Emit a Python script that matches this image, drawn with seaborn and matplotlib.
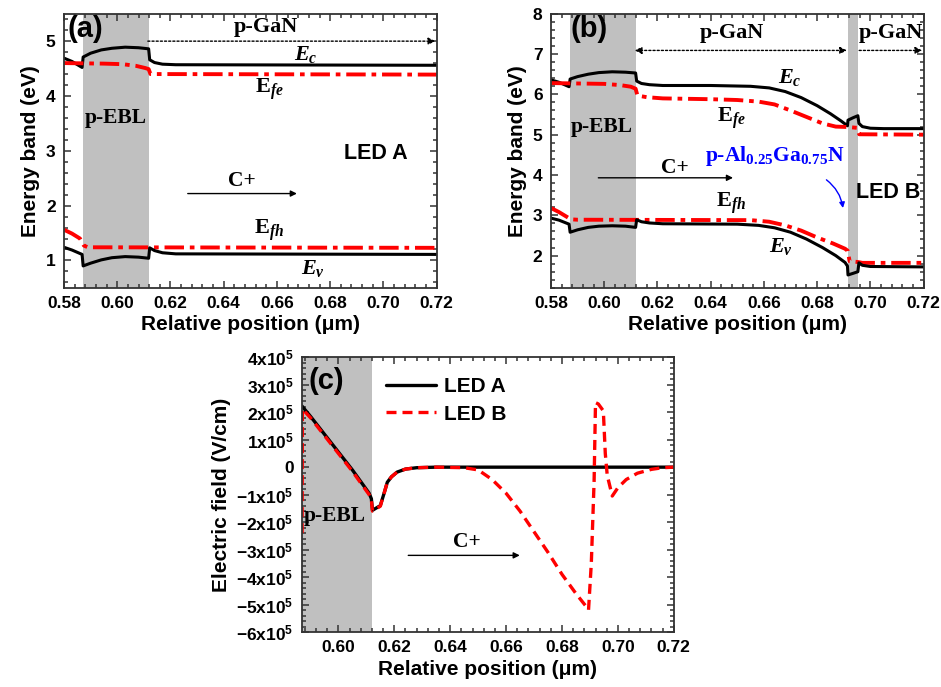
import numpy as np
import pandas as pd
import matplotlib
matplotlib.use('Agg')
import matplotlib.pyplot as plt
import seaborn as sns
from matplotlib.ticker import MultipleLocator, FuncFormatter

# ------------------------------
# Data
# ------------------------------

# (a) LED A band diagram
a_ec_x = [0.580, 0.583, 0.5868, 0.5872, 0.590, 0.594, 0.598, 0.603, 0.608, 0.6118, 0.6122, 0.614, 0.617, 0.622, 0.720]
a_ec_y = [4.69, 4.63, 4.52, 4.71, 4.78, 4.84, 4.87, 4.89, 4.88, 4.86, 4.66, 4.61, 4.58, 4.57, 4.56]
a_efe_x = [0.580, 0.595, 0.602, 0.607, 0.6105, 0.6118, 0.6125, 0.720]
a_efe_y = [4.60, 4.59, 4.58, 4.55, 4.51, 4.49, 4.40, 4.39]
a_efh_x = [0.580, 0.583, 0.586, 0.5875, 0.589, 0.720]
a_efh_y = [1.56, 1.49, 1.40, 1.27, 1.24, 1.23]
a_ev_x = [0.580, 0.583, 0.5868, 0.5872, 0.590, 0.594, 0.598, 0.603, 0.608, 0.6118, 0.6122, 0.614, 0.617, 0.622, 0.720]
a_ev_y = [1.24, 1.19, 1.11, 0.90, 0.95, 1.01, 1.05, 1.07, 1.06, 1.04, 1.23, 1.18, 1.14, 1.12, 1.11]

# (b) LED B band diagram
b_ec_x = [0.580, 0.583, 0.5868, 0.5872, 0.590, 0.594, 0.598, 0.603, 0.608, 0.6118, 0.6122, 0.614, 0.617,
          0.622, 0.640, 0.655, 0.662, 0.668, 0.674, 0.680, 0.685, 0.689, 0.6914, 0.6916, 0.6935, 0.6953,
          0.6957, 0.697, 0.700, 0.705, 0.720]
b_ec_y = [6.36, 6.30, 6.19, 6.38, 6.44, 6.50, 6.54, 6.56, 6.55, 6.53, 6.33, 6.27, 6.24,
          6.22, 6.22, 6.20, 6.16, 6.07, 5.92, 5.72, 5.52, 5.34, 5.22, 5.36, 5.42, 5.47,
          5.28, 5.20, 5.16, 5.15, 5.15]
b_efe_x = [0.580, 0.590, 0.600, 0.606, 0.610, 0.6118, 0.6125, 0.616, 0.622, 0.640, 0.650, 0.658,
           0.664, 0.670, 0.676, 0.682, 0.687, 0.6915, 0.695, 0.6958, 0.720]
b_efe_y = [6.28, 6.27, 6.26, 6.23, 6.19, 6.14, 5.97, 5.93, 5.90, 5.88, 5.86, 5.82,
           5.75, 5.60, 5.44, 5.28, 5.20, 5.19, 5.17, 5.01, 5.00]
b_efh_x = [0.580, 0.583, 0.586, 0.5875, 0.590, 0.655, 0.662, 0.668, 0.674, 0.680, 0.686, 0.6905,
           0.6915, 0.6922, 0.6955, 0.697, 0.720]
b_efh_y = [3.18, 3.08, 2.96, 2.90, 2.89, 2.88, 2.84, 2.75, 2.62, 2.45, 2.30, 2.17,
           2.12, 1.86, 1.84, 1.82, 1.82]
b_ev_x = [0.580, 0.583, 0.5868, 0.5872, 0.590, 0.594, 0.598, 0.603, 0.608, 0.6118, 0.6122, 0.614,
          0.617, 0.622, 0.650, 0.658, 0.664, 0.670, 0.676, 0.682, 0.687, 0.6905, 0.6914, 0.6916,
          0.6935, 0.6953, 0.6957, 0.697, 0.700, 0.720]
b_ev_y = [2.93, 2.88, 2.78, 2.58, 2.64, 2.70, 2.73, 2.74, 2.73, 2.70, 2.89, 2.84,
          2.81, 2.79, 2.78, 2.75, 2.69, 2.58, 2.41, 2.20, 2.00, 1.83, 1.74, 1.52,
          1.56, 1.60, 1.82, 1.76, 1.73, 1.72]

# (c) electric field (V/cm)
c_a_x = [0.587, 0.590, 0.595, 0.600, 0.605, 0.611, 0.6118, 0.6122, 0.613, 0.615, 0.6165, 0.6175,
         0.619, 0.621, 0.624, 0.628, 0.635, 0.720]
c_a_y = [2.22e5, 1.85e5, 1.20e5, 0.55e5, -0.10e5, -0.95e5, -1.15e5, -1.57e5, -1.52e5, -1.40e5,
         -0.90e5, -0.55e5, -0.35e5, -0.18e5, -0.07e5, -0.02e5, 0.0, 0.0]
c_b_x = [0.587, 0.5871, 0.590, 0.595, 0.600, 0.605, 0.611, 0.6118, 0.6122, 0.613, 0.615, 0.6165,
         0.6175, 0.619, 0.621, 0.624, 0.628, 0.635, 0.645, 0.650, 0.655, 0.660, 0.665, 0.670,
         0.675, 0.680, 0.685, 0.6885, 0.6895, 0.6905, 0.6915, 0.692, 0.693, 0.6948, 0.6955,
         0.6962, 0.698, 0.700, 0.703, 0.707, 0.712, 0.716, 0.720]
c_b_y = [-2.4e5, 2.12e5, 1.80e5, 1.15e5, 0.50e5, -0.15e5, -1.00e5, -1.20e5, -1.60e5, -1.55e5,
         -1.42e5, -0.90e5, -0.55e5, -0.35e5, -0.18e5, -0.07e5, -0.02e5, 0.0, -0.02e5, -0.10e5,
         -0.45e5, -0.95e5, -1.60e5, -2.35e5, -3.10e5, -3.90e5, -4.60e5, -5.05e5, -5.20e5,
         -3.50e5, -0.50e5, 2.35e5, 2.30e5, 2.05e5, 0.50e5, -0.30e5, -1.05e5, -0.75e5, -0.45e5,
         -0.22e5, -0.08e5, -0.02e5, 0.0]

ebl = (0.587, 0.612)
algan = (0.6915, 0.6955)

# ------------------------------
# Style
# ------------------------------
sns.set_theme(style='ticks')
plt.rcParams['font.family'] = ['Liberation Sans', 'DejaVu Sans']
plt.rcParams['font.weight'] = 'bold'
plt.rcParams['axes.labelweight'] = 'bold'
plt.rcParams['text.color'] = 'black'
plt.rcParams['axes.labelcolor'] = 'black'
plt.rcParams['xtick.color'] = 'black'
plt.rcParams['ytick.color'] = 'black'
plt.rcParams['mathtext.fontset'] = 'custom'
plt.rcParams['mathtext.rm'] = 'Liberation Sans:bold'
plt.rcParams['mathtext.bf'] = 'Liberation Serif:bold'
plt.rcParams['mathtext.it'] = 'Liberation Serif:italic:bold'
plt.rcParams['axes.edgecolor'] = '#333333'
plt.rcParams['axes.linewidth'] = 1.3

serif = dict(family='Liberation Serif', weight='bold')
black = '#000000'
red = '#ff0000'
shade = '#c0c0c0'


def style_axes(ax, xlim, ylim, ymaj, ymin):
    ax.set_xlim(*xlim)
    ax.set_ylim(*ylim)
    ax.xaxis.set_major_locator(MultipleLocator(0.02))
    ax.xaxis.set_minor_locator(MultipleLocator(0.004))
    ax.xaxis.set_major_formatter(FuncFormatter(lambda v, p: f'{v:.2f}'))
    ax.yaxis.set_major_locator(MultipleLocator(ymaj))
    ax.yaxis.set_minor_locator(MultipleLocator(ymin))
    ax.tick_params(which='both', direction='in', top=True, right=True, labelsize=12.5,
                   color='#333333', width=1.1)
    ax.tick_params(which='major', length=5, pad=6)
    ax.tick_params(which='minor', length=3)
    ax.set_xlabel('Relative position (\u03bcm)', fontsize=15, labelpad=3)
    for lab in ax.get_xticklabels() + ax.get_yticklabels():
        lab.set_fontweight('bold')


def band(ax, x, y, color, ls, lw):
    sns.lineplot(x=x, y=y, ax=ax, color=color, linestyle=ls, linewidth=lw,
                 sort=False, estimator=None, legend=False)


dashdot = (0, (5, 1.5, 1.2, 1.5))
arrow_dot = (0, (1.5, 1.5))

fig = plt.figure(figsize=(9.41, 6.87), dpi=100)

# ------------------------------
# (a) LED A
# ------------------------------
ax = fig.add_axes([0.068, 0.581, 0.396, 0.399])
ax.axvspan(*ebl, color=shade, lw=0, zorder=0)
band(ax, a_ec_x, a_ec_y, black, '-', 2.2)
band(ax, a_efe_x, a_efe_y, red, dashdot, 2.8)
band(ax, a_efh_x, a_efh_y, red, dashdot, 2.8)
band(ax, a_ev_x, a_ev_y, black, '-', 2.2)
style_axes(ax, (0.58, 0.72), (0.5, 5.5), 1, 0.2)
ax.set_ylabel('Energy band (eV)', fontsize=15, labelpad=4)
ax.text(0.5813, 5.22, '(a)', fontsize=21, weight='bold', va='center')
ax.text(0.656, 5.25, 'p-GaN', fontsize=16, va='center', ha='center', **serif)
ax.annotate('', xy=(0.7195, 5.0), xytext=(0.6115, 5.0),
            arrowprops=dict(arrowstyle='-|>', linestyle=arrow_dot, lw=1, color='black',
                            mutation_scale=10, shrinkA=0, shrinkB=0))
ax.text(0.671, 4.76, r'$E_c$', fontsize=16, ha='center', va='center')
ax.text(0.657, 4.12, r'$\mathbf{E}_{fe}$', fontsize=16, ha='center', va='center')
ax.text(0.5995, 3.6, 'p-EBL', fontsize=15.5, ha='center', va='center', **serif)
ax.text(0.697, 2.95, 'LED A', fontsize=15.5, ha='center', va='center', weight='bold')
ax.text(0.647, 2.45, 'C+', fontsize=15.5, ha='center', va='center', **serif)
ax.annotate('', xy=(0.6675, 2.22), xytext=(0.6265, 2.22),
            arrowprops=dict(arrowstyle='-|>', lw=1, color='black', mutation_scale=9,
                            shrinkA=0, shrinkB=0))
ax.text(0.657, 1.55, r'$\mathbf{E}_{fh}$', fontsize=16, ha='center', va='center')
ax.text(0.6735, 0.86, r'$E_v$', fontsize=16, ha='center', va='center')

# ------------------------------
# (b) LED B
# ------------------------------
ax = fig.add_axes([0.5855, 0.581, 0.396, 0.399])
ax.axvspan(*ebl, color=shade, lw=0, zorder=0)
ax.axvspan(*algan, color=shade, lw=0, zorder=0)
band(ax, b_ec_x, b_ec_y, black, '-', 2.2)
band(ax, b_efe_x, b_efe_y, red, dashdot, 2.8)
band(ax, b_efh_x, b_efh_y, red, dashdot, 2.8)
band(ax, b_ev_x, b_ev_y, black, '-', 2.2)
style_axes(ax, (0.58, 0.72), (1.2, 8.0), 1, 0.2)
ax.set_ylabel('Energy band (eV)', fontsize=15, labelpad=4)
ax.text(0.5872, 7.62, '(b)', fontsize=21, weight='bold', va='center')
ax.text(0.648, 7.52, 'p-GaN', fontsize=16, va='center', ha='center', **serif)
ax.text(0.7078, 7.52, 'p-GaN', fontsize=16, va='center', ha='center', **serif)
ax.annotate('', xy=(0.6912, 7.09), xytext=(0.6115, 7.09),
            arrowprops=dict(arrowstyle='<|-|>', linestyle=arrow_dot, lw=1, color='black',
                            mutation_scale=10, shrinkA=0, shrinkB=0))
ax.annotate('', xy=(0.7195, 7.09), xytext=(0.6958, 7.09),
            arrowprops=dict(arrowstyle='-|>', linestyle=arrow_dot, lw=1, color='black',
                            mutation_scale=10, shrinkA=0, shrinkB=0))
ax.text(0.6697, 6.43, r'$E_c$', fontsize=16, ha='center', va='center')
ax.text(0.6478, 5.40, r'$\mathbf{E}_{fe}$', fontsize=16, ha='center', va='center')
ax.text(0.599, 5.2, 'p-EBL', fontsize=15.5, ha='center', va='center', **serif)
ax.text(0.664, 4.46, r'p-Al$_{\mathbf{0.25}}$Ga$_{\mathbf{0.75}}$N', fontsize=15.5,
        ha='center', va='center', color='#0000ff', **serif)
ax.annotate('', xy=(0.6897, 3.18), xytext=(0.6835, 3.88),
            arrowprops=dict(arrowstyle='-|>', lw=1, color='#0000ff', mutation_scale=8,
                            connectionstyle='arc3,rad=-0.2', shrinkA=0, shrinkB=0))
ax.text(0.7068, 3.57, 'LED B', fontsize=15.5, ha='center', va='center', weight='bold')
ax.text(0.6265, 4.17, 'C+', fontsize=15.5, ha='center', va='center', **serif)
ax.annotate('', xy=(0.6484, 3.93), xytext=(0.5978, 3.93),
            arrowprops=dict(arrowstyle='-|>', lw=1, color='black', mutation_scale=9,
                            shrinkA=0, shrinkB=0))
ax.text(0.6478, 3.30, r'$\mathbf{E}_{fh}$', fontsize=16, ha='center', va='center')
ax.text(0.6666, 2.23, r'$E_v$', fontsize=16, ha='center', va='center')

# ------------------------------
# (c) electric field
# ------------------------------
ax = fig.add_axes([0.321, 0.080, 0.395, 0.400])
ax.axvspan(*ebl, color=shade, lw=0, zorder=0)
field = pd.concat([
    pd.DataFrame({'x': c_a_x, 'E': c_a_y, 'LED': 'LED A'}),
    pd.DataFrame({'x': c_b_x, 'E': c_b_y, 'LED': 'LED B'}),
])
sns.lineplot(data=field[field.LED == 'LED A'], x='x', y='E', ax=ax, color=black, lw=2.4,
             sort=False, estimator=None, label='LED A')
sns.lineplot(data=field[field.LED == 'LED B'], x='x', y='E', ax=ax, color=red, lw=2.4,
             linestyle=(0, (3, 1.8)), sort=False, estimator=None, label='LED B')
style_axes(ax, (0.587, 0.72), (-6e5, 4e5), 1e5, 2e4)
ax.yaxis.set_major_formatter(FuncFormatter(
    lambda v, p: '0' if abs(v) < 1 else r'$\mathrm{%dx10^5}$' % round(v / 1e5)))
ax.set_ylabel('Electric field (V/cm)', fontsize=15, labelpad=4)
ax.text(0.5955, 3.15e5, '(c)', fontsize=21, weight='bold', va='center', ha='center')
ax.text(0.5988, -1.76e5, 'p-EBL', fontsize=15.5, ha='center', va='center', **serif)
ax.text(0.6458, -2.73e5, 'C+', fontsize=15.5, ha='center', va='center', **serif)
ax.annotate('', xy=(0.6649, -3.21e5), xytext=(0.625, -3.21e5),
            arrowprops=dict(arrowstyle='-|>', lw=1, color='black', mutation_scale=9,
                            shrinkA=0, shrinkB=0))
ax.legend(loc='upper left', bbox_to_anchor=(0.175, 0.995), frameon=False, handlelength=2.4,
          prop=dict(size=15, weight='bold'), labelspacing=0.4, handletextpad=0.4)

fig.savefig('out.png', dpi=100)
